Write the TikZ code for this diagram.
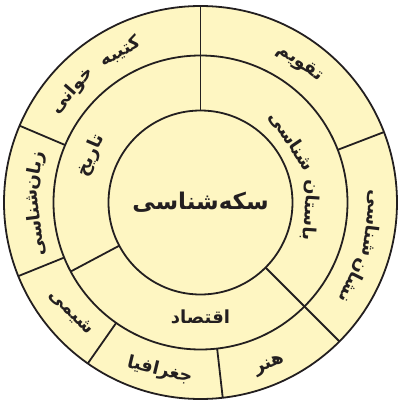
\documentclass[tikz,border=0pt]{standalone}
\usepackage{fontspec}
\newfontfamily\fafont[Script=Arabic]{DejaVu Sans}
\TeXXeTstate=1
\definecolor{paper}{RGB}{254,246,194}
\definecolor{ink}{RGB}{35,31,32}
\begin{document}
\begin{tikzpicture}[x=1pt,y=1pt,
  ring/.style={draw=ink, line width=1.8pt},
  lbl/.style={text=ink, inner sep=0pt, font=\fafont\bfseries\fontsize{18}{18}\selectfont},
  big/.style={text=ink, inner sep=0pt, font=\fafont\bfseries\fontsize{23}{23}\selectfont}]
\useasboundingbox (-200.5,-202.5) rectangle (200.5,202.5);
\fill[paper] (0,0) circle (196.5);
\draw[ring] (0,0) circle (196.5);
\draw[ring] (0,0) circle (147);
\draw[ring] (0,0) circle (92);
\foreach \a in {21,90,157,202,235,276.5}
  \draw[ring] (\a:147)--(\a:196.5);
\foreach \a in {90,208}
  \draw[ring] (\a:92)--(\a:147);
\draw[ring] (-45:92)--(-45:196.5);
\node[big] (sekke) at (0,0) {\beginR سکه‌شناسی\endR};
\node[lbl, rotate=66.7] (tarikh) at (156.7:119) {\beginR تاریخ\endR};
\node[lbl, rotate=-56] (bastan2) at (34:110) {\beginR شناسی\endR};
\node[lbl, rotate=-94] (bastan1) at (-4:110) {\beginR باستان\endR};
\node[lbl] (eghtesad) at (-90:114) {\beginR اقتصاد\endR};
\node[lbl, rotate=28] (katibe) at (118:171) {\beginR کتیبه\endR};
\node[lbl, rotate=49] (khani) at (139:170) {\beginR خوانی\endR};
\node[lbl, rotate=-35.5] (taghvim) at (54.5:171) {\beginR تقویم\endR};
\node[lbl, rotate=-97] (neshan2) at (-7:173) {\beginR شناسی\endR};
\node[lbl, rotate=-117] (neshan1) at (-27:172) {\beginR نشان\endR};
\node[lbl, rotate=22.9] (honar) at (-67.1:177) {\beginR هنر\endR};
\node[lbl, rotate=-13.6] (joghrafia) at (256.4:173) {\beginR جغرافیا\endR};
\node[lbl, rotate=-45] (shimi) at (220.4:170) {\beginR شیمی\endR};
\node[lbl, rotate=79] (zaban1) at (169:168) {\beginR زبان\endR};
\node[lbl, rotate=97] (zaban2) at (187:167) {\beginR شناسی\endR};
\end{tikzpicture}
\end{document}
